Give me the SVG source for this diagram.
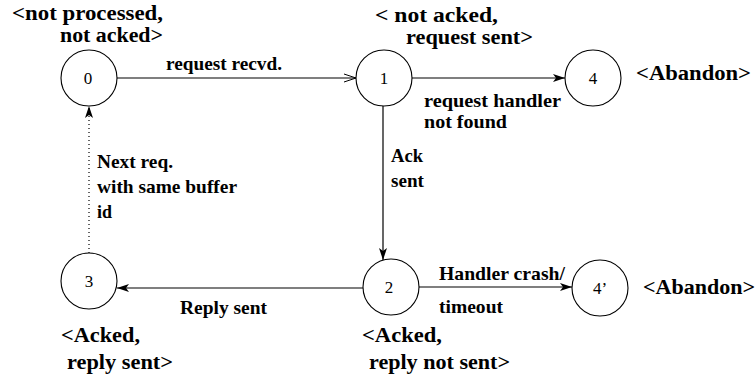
<svg xmlns="http://www.w3.org/2000/svg" width="756" height="381" viewBox="0 0 756 381">
<style>
.n{fill:#fff;stroke:#000;stroke-width:1.1}
.num{font-family:"Liberation Serif",serif;font-size:17px;text-anchor:middle;fill:#000}
.st{font-family:"Liberation Serif",serif;font-weight:bold;font-size:20px;fill:#000}
.el{font-family:"Liberation Serif",serif;font-weight:bold;font-size:19px;fill:#000}
.e{fill:none;stroke:#000;stroke-width:1.2}
.dot{stroke-dasharray:1 3}
</style>
<defs>
<marker id="af" markerUnits="userSpaceOnUse" markerWidth="14" markerHeight="10" refX="12" refY="4" orient="auto" overflow="visible">
<path d="M0,0 L12,4 L0,8 L3,4 z" fill="#000"/>
</marker>
<marker id="ao" markerUnits="userSpaceOnUse" markerWidth="14" markerHeight="10" refX="12" refY="4" orient="auto" overflow="visible">
<path d="M0,0 L12,4 L0,8" fill="none" stroke="#000" stroke-width="1"/>
</marker>
</defs>
<g id="connectors">
<line class="e" x1="117" y1="78" x2="356" y2="78" marker-end="url(#ao)"/>
<line class="e" x1="412" y1="78" x2="565" y2="78" marker-end="url(#af)"/>
<line class="e" x1="383" y1="106" x2="383" y2="260" marker-end="url(#af)"/>
<line class="e" x1="363" y1="288" x2="117" y2="288" marker-end="url(#af)"/>
<line class="e" x1="419" y1="287" x2="572" y2="287" marker-end="url(#af)"/>
<line class="e dot" x1="89" y1="253" x2="89" y2="106" marker-end="url(#af)"/>
<text class="el" x="166" y="70" textLength="116" lengthAdjust="spacingAndGlyphs">request recvd.</text>
<text class="el" x="424" y="107" textLength="137" lengthAdjust="spacingAndGlyphs">request handler</text>
<text class="el" x="424" y="128" textLength="83" lengthAdjust="spacingAndGlyphs">not found</text>
<text class="el" x="391" y="162" textLength="32" lengthAdjust="spacingAndGlyphs">Ack</text>
<text class="el" x="391" y="187" textLength="33" lengthAdjust="spacingAndGlyphs">sent</text>
<text class="el" x="97" y="168" textLength="76" lengthAdjust="spacingAndGlyphs">Next req.</text>
<text class="el" x="97" y="193" textLength="140" lengthAdjust="spacingAndGlyphs">with same buffer</text>
<text class="el" x="97" y="218" textLength="15" lengthAdjust="spacingAndGlyphs">id</text>
<text class="el" x="180" y="314" textLength="87" lengthAdjust="spacingAndGlyphs">Reply sent</text>
<text class="el" x="439" y="280" textLength="126" lengthAdjust="spacingAndGlyphs">Handler crash/</text>
<text class="el" x="439" y="313" textLength="64" lengthAdjust="spacingAndGlyphs">timeout</text>
</g>
<g id="node0">
<circle class="n" cx="89" cy="78" r="28"/>
<text class="num" x="88" y="84">0</text>
<text class="st" x="12" y="20" textLength="151" lengthAdjust="spacingAndGlyphs">&lt;not processed,</text>
<text class="st" x="60" y="42" textLength="103" lengthAdjust="spacingAndGlyphs">not acked&gt;</text>
</g>
<g id="node1">
<circle class="n" cx="384" cy="78" r="28"/>
<text class="num" x="384" y="84">1</text>
<text class="st" x="375" y="22" textLength="123" lengthAdjust="spacingAndGlyphs">&lt; not acked,</text>
<text class="st" x="406" y="44" textLength="127" lengthAdjust="spacingAndGlyphs">request sent&gt;</text>
</g>
<g id="node4">
<circle class="n" cx="593" cy="78" r="28"/>
<text class="num" x="593" y="84">4</text>
<text class="st" x="636" y="80" textLength="115" lengthAdjust="spacingAndGlyphs">&lt;Abandon&gt;</text>
</g>
<g id="node2">
<circle class="n" cx="391" cy="287" r="28"/>
<text class="num" x="389" y="293">2</text>
<text class="st" x="362" y="342" textLength="80" lengthAdjust="spacingAndGlyphs">&lt;Acked,</text>
<text class="st" x="369" y="369" textLength="141" lengthAdjust="spacingAndGlyphs">reply not sent&gt;</text>
</g>
<g id="node3">
<circle class="n" cx="89" cy="281" r="28"/>
<text class="num" x="89" y="287">3</text>
<text class="st" x="61" y="342" textLength="79" lengthAdjust="spacingAndGlyphs">&lt;Acked,</text>
<text class="st" x="67" y="369" textLength="106" lengthAdjust="spacingAndGlyphs">reply sent&gt;</text>
</g>
<g id="node4p">
<circle class="n" cx="600" cy="288" r="28"/>
<text class="num" x="600" y="294">4’</text>
<text class="st" x="643" y="294" textLength="112" lengthAdjust="spacingAndGlyphs">&lt;Abandon&gt;</text>
</g>
</svg>
